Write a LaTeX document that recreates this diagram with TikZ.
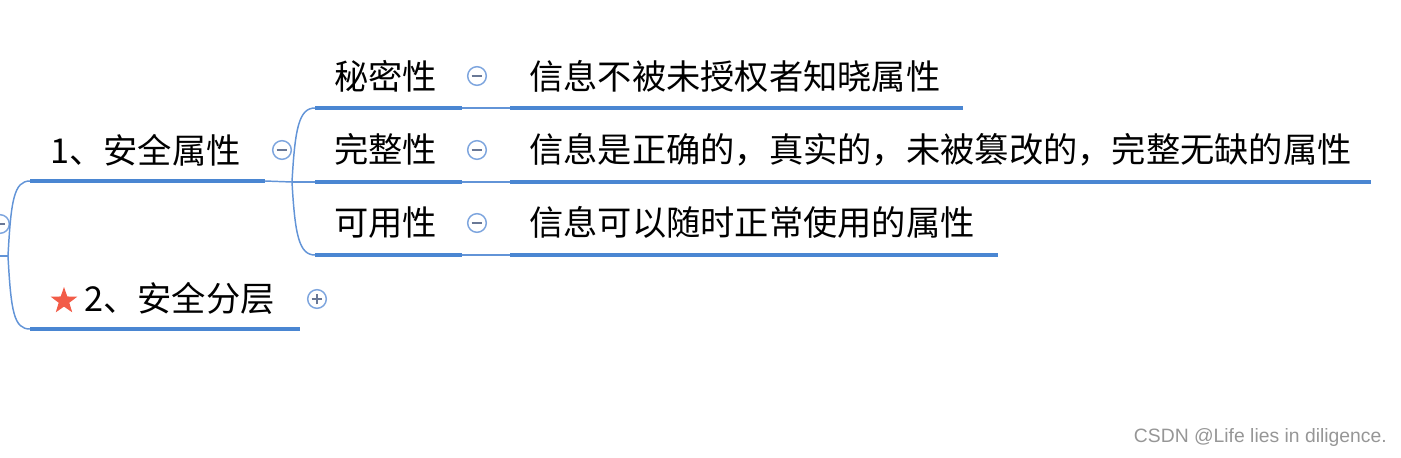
\documentclass[tikz,border=0pt]{standalone}
\usepackage{fontspec}
\setmainfont{Liberation Sans}
\newfontfamily\cjk{Noto Sans CJK SC}
\usetikzlibrary{shapes.geometric}
\definecolor{thickc}{RGB}{74,134,210}
\definecolor{thinc}{RGB}{98,148,215}
\definecolor{ringc}{RGB}{125,165,222}
\definecolor{signc}{RGB}{105,120,150}
\definecolor{starc}{RGB}{242,92,72}
\definecolor{wmc}{RGB}{150,150,150}
\begin{document}
\begin{tikzpicture}[x=0.75pt,y=-0.75pt,
  lbl/.style={font=\cjk\fontsize{25.7}{30}\selectfont, anchor=base west, inner sep=0pt, text=black},
  under/.style={draw=thickc, line width=3pt},
  link/.style={draw=thinc, line width=1.1pt},
  tog/.style={circle, draw=ringc, line width=1.1pt, fill=white, minimum size=14pt, inner sep=0pt},
  sign/.style={draw=signc, line width=1.3pt}]
\useasboundingbox (0,0) rectangle (1401,457);

% root toggle (cut at left edge)
\node[tog] (root) at (0,224) {};
\draw[sign] (-4,224) -- (5,224);
\coordinate (r0) at (0,256);
\coordinate (rb) at (8,256);

% level 1 labels
\node[lbl] (a) at (50,163.5) {1、安全属性};
\node[lbl] (b) at (84,311.5) {2、安全分层};
\node[star, star points=5, star point ratio=2.5, fill=starc, minimum size=21pt, inner sep=0pt] (st) at (64,301) {};

\coordinate (aL) at (30,181);
\coordinate (aR) at (265,181);
\coordinate (bL) at (30,329);
\coordinate (bR) at (300,329);
\coordinate (ab) at (292,182);

\draw[link] (r0) -- (rb);
\draw[link] (rb) .. controls (11,200) and (14,181) .. (aL);
\draw[link] (rb) .. controls (11,312) and (14,329) .. (bL);
\draw[under] (aL) -- (aR);
\draw[under] (bL) -- (bR);
\draw[link] (aR) -- (ab);

\node[tog] (ta) at (282,150) {};
\draw[sign] ([xshift=-4pt]ta.center) -- ([xshift=4pt]ta.center);
\node[tog] (tb) at (317,299) {};
\draw[sign] ([xshift=-4pt]tb.center) -- ([xshift=4pt]tb.center);
\draw[sign] ([yshift=-4pt]tb.center) -- ([yshift=4pt]tb.center);

% level 2
\node[lbl] (c1) at (334,89.5) {秘密性};
\node[lbl] (c2) at (334,162.5) {完整性};
\node[lbl] (c3) at (334,235.5) {可用性};

\coordinate (c1L) at (315,108);
\coordinate (c2L) at (315,182);
\coordinate (c3L) at (315,255);
\coordinate (c1R) at (462,108);
\coordinate (c2R) at (462,182);
\coordinate (c3R) at (462,255);

\draw[link] (ab) .. controls (295,128) and (299,108) .. (c1L);
\draw[link] (ab) .. controls (295,235) and (299,255) .. (c3L);
\draw[link] (ab) -- (c2L);
\draw[under] (c1L) -- (c1R);
\draw[under] (c2L) -- (c2R);
\draw[under] (c3L) -- (c3R);

\node[tog] (t1) at (477,76) {};
\draw[sign] ([xshift=-4pt]t1.center) -- ([xshift=4pt]t1.center);
\node[tog] (t2) at (477,150) {};
\draw[sign] ([xshift=-4pt]t2.center) -- ([xshift=4pt]t2.center);
\node[tog] (t3) at (477,223) {};
\draw[sign] ([xshift=-4pt]t3.center) -- ([xshift=4pt]t3.center);

% level 3
\node[lbl] (d1) at (529,89.5) {信息不被未授权者知晓属性};
\node[lbl] (d2) at (529,162.5) {信息是正确的，真实的，未被篡改的，完整无缺的属性};
\node[lbl] (d3) at (529,235.5) {信息可以随时正常使用的属性};

\coordinate (d1L) at (510,108);
\coordinate (d2L) at (510,182);
\coordinate (d3L) at (510,255);
\coordinate (d1R) at (963,108);
\coordinate (d2R) at (1371,182);
\coordinate (d3R) at (998,255);

\draw[link] (c1R) -- (d1L);
\draw[link] (c2R) -- (d2L);
\draw[link] (c3R) -- (d3L);
\draw[under] (d1L) -- (d1R);
\draw[under] (d2L) -- (d2R);
\draw[under] (d3L) -- (d3R);

% watermark
\node[font=\fontsize{14.5}{17}\selectfont, text=wmc, anchor=east, inner sep=0pt] (wm) at (1387,437) {CSDN @Life lies in diligence.};
\end{tikzpicture}
\end{document}
